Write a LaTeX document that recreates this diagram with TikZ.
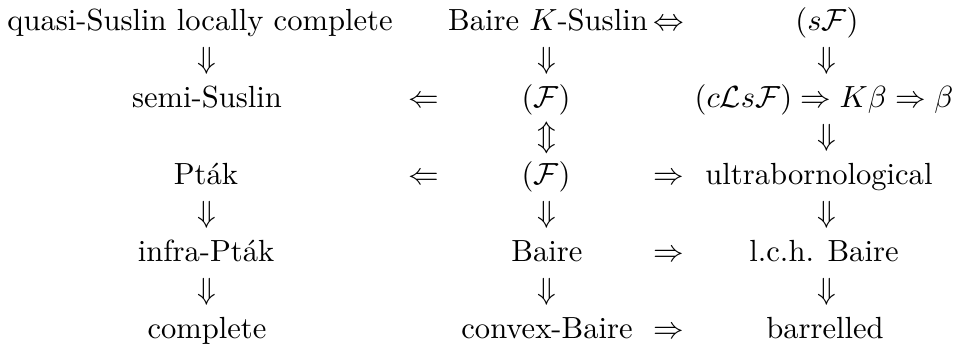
\documentclass[tikz,border=0pt]{standalone}
\usepackage{amsmath}

\begin{document}
\begin{tikzpicture}[x=0.327pt, y=-0.327pt,
    every node/.style={anchor=base, inner sep=0pt},
    imp/.style={anchor=base}]
  \useasboundingbox (0,0) rectangle (961,344);

  % first row
  \node (qslc) at (200,30) {quasi-Suslin locally complete};
  \node (bks) at (548,30) {Baire \(K\)-Suslin};
  \node[imp] (iffA) at (669,30) {\(\Leftrightarrow\)};
  \node (sF) at (827,30) {\((s\mathcal{F})\)};

  \node[imp] (dA1) at (207,68.5) {\(\Downarrow\)};
  \node[imp] (dB1) at (547,68.5) {\(\Downarrow\)};
  \node[imp] (dC1) at (827,68.5) {\(\Downarrow\)};

  % second row
  \node (ssus) at (207,107) {semi-Suslin};
  \node[imp] (lA) at (424,107) {\(\Leftarrow\)};
  \node (FA) at (546,107) {\((\mathcal{F})\)};
  \node (cLsF) at (824,107) {\((c\mathcal{L}s\mathcal{F}) \Rightarrow K\beta \Rightarrow \beta\)};

  \node[imp] (udB) at (547,145.5) {\(\Updownarrow\)};
  \node[imp] (dC2) at (827,145.5) {\(\Downarrow\)};

  % third row
  \node (ptak) at (206,184) {Pt\'ak};
  \node[imp] (lB) at (424,184) {\(\Leftarrow\)};
  \node (FB) at (546,184) {\((\mathcal{F})\)};
  \node[imp] (rA) at (669,184) {\(\Rightarrow\)};
  \node (ubor) at (819,184) {ultrabornological};

  \node[imp] (dA2) at (207,222.5) {\(\Downarrow\)};
  \node[imp] (dB2) at (547,222.5) {\(\Downarrow\)};
  \node[imp] (dC3) at (827,222.5) {\(\Downarrow\)};

  % fourth row
  \node (iptak) at (206,261) {infra-Pt\'ak};
  \node (baire) at (547,261) {Baire};
  \node[imp] (rB) at (669,261) {\(\Rightarrow\)};
  \node (lchb) at (824,261) {l.c.h. Baire};

  \node[imp] (dA3) at (207,299.5) {\(\Downarrow\)};
  \node[imp] (dB3) at (547,299.5) {\(\Downarrow\)};
  \node[imp] (dC4) at (827,299.5) {\(\Downarrow\)};

  % last row
  \node (compl) at (207,338) {complete};
  \node (cvxb) at (547,338) {convex-Baire};
  \node[imp] (rC) at (669,338) {\(\Rightarrow\)};
  \node (barr) at (825,338) {barrelled};
\end{tikzpicture}
\end{document}
